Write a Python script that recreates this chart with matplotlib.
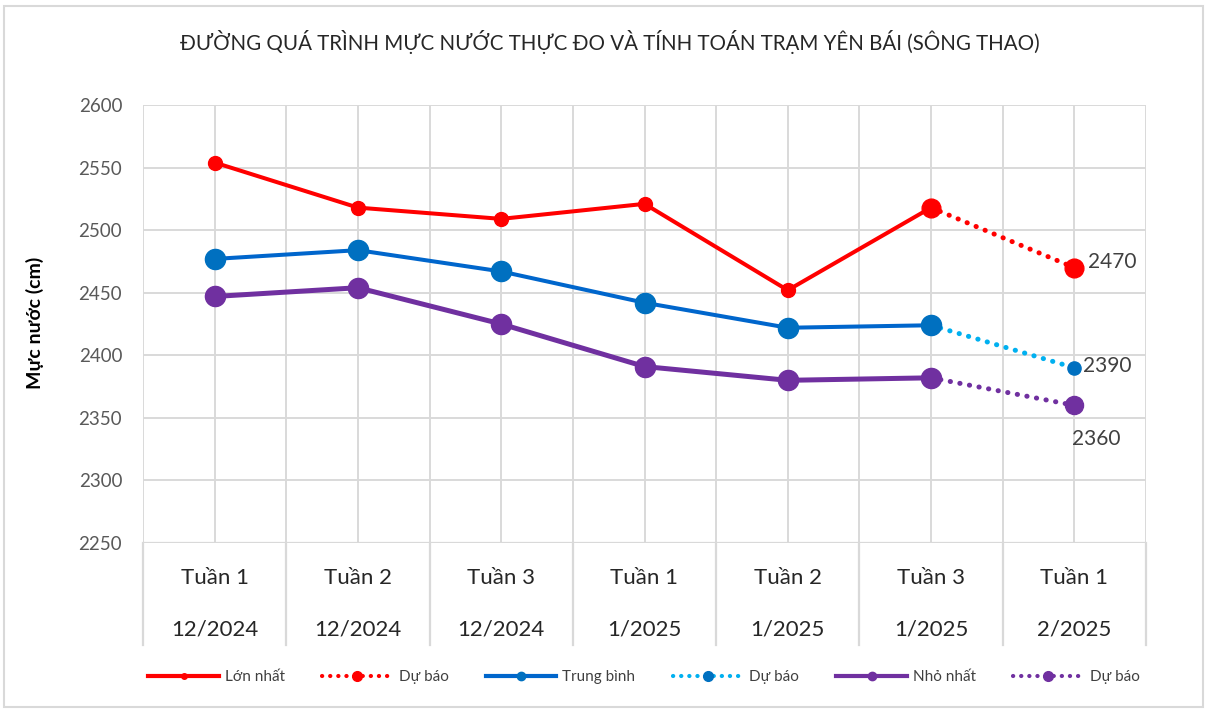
import numpy as np
import matplotlib
matplotlib.use("Agg")
import matplotlib.pyplot as plt
from matplotlib.lines import Line2D
from matplotlib.patches import Rectangle
import matplotlib.transforms as mtransforms

plt.rcParams['font.family'] = ['Lato', 'DejaVu Sans']

nan = np.nan
weeks = ["Tuần 1", "Tuần 2", "Tuần 3", "Tuần 1", "Tuần 2", "Tuần 3", "Tuần 1"]
months = ["12/2024", "12/2024", "12/2024", "1/2025", "1/2025", "1/2025", "2/2025"]

max_obs = [2554, 2518, 2509, 2521, 2452, 2518, nan]
max_fc = [nan, nan, nan, nan, nan, 2518, 2470]
mean_obs = [2477, 2484, 2467, 2442, 2422, 2424, nan]
mean_fc = [nan, nan, nan, nan, nan, 2424, 2390]
min_obs = [2447, 2454, 2425, 2391, 2380, 2382, nan]
min_fc = [nan, nan, nan, nan, nan, 2382, 2360]

title = "ĐƯỜNG QUÁ TRÌNH MỰC NƯỚC THỰC ĐO VÀ TÍNH TOÁN TRẠM YÊN BÁI (SÔNG THAO)"
ylabel = "Mực nước (cm)"
legend_labels = ["Lớn nhất", "Dự báo", "Trung bình", "Dự báo", "Nhỏ nhất", "Dự báo"]

RED = "#FF0000"
BLUE_LINE = "#0066CC"
BLUE_MK = "#0070C0"
LBLUE = "#00B0F0"
PURPLE = "#7030A0"
GRID = "#D9D9D9"

W, H = 1207, 711
fig = plt.figure(figsize=(W / 100, H / 100), dpi=100)
L, R, T, B = 143, 1146, 105, 543
ax = fig.add_axes([L / W, 1 - B / H, (R - L) / W, (B - T) / H])

x = np.arange(len(weeks))
ax.set_xlim(-0.5, len(weeks) - 0.5)
ax.set_ylim(2250, 2600)
ax.set_yticks(np.arange(2250, 2601, 50))
ax.set_xticks(np.arange(-0.5, len(weeks), 0.5))
ax.set_xticklabels([])
ax.tick_params(axis='x', length=0)
ax.tick_params(axis='y', length=0, labelsize=13.5, labelcolor="#595959", pad=15)
ax.grid(True, color=GRID, linewidth=1.4)
ax.set_axisbelow(True)
for s in ax.spines.values():
    s.set_visible(False)
ax.axhline(2250, color=GRID, linewidth=1.6, zorder=1)

dots = (0, (0.05, 1.9))
# observed
ax.plot(x, max_obs, color=RED, lw=2.9, marker='o', ms=10, mfc=RED, mec=RED, zorder=3)
ax.plot(x, mean_obs, color=BLUE_LINE, lw=2.9, marker='o', ms=14.5, mfc=BLUE_MK, mec=BLUE_MK, zorder=3)
ax.plot(x, min_obs, color=PURPLE, lw=3.6, marker='o', ms=14.5, mfc=PURPLE, mec=PURPLE, zorder=3)
# forecasts
ax.plot(x, max_fc, color=RED, lw=3.6, ls=dots, dash_capstyle='round', marker='o', ms=13.5, mfc=RED, mec=RED, zorder=4)
ax.plot(x, mean_fc, color=LBLUE, lw=3.6, ls=dots, dash_capstyle='round', marker='o', ms=9.5, mfc=BLUE_MK, mec=BLUE_MK, zorder=2)
ax.plot(x, min_fc, color=PURPLE, lw=3.6, ls=dots, dash_capstyle='round', marker='o', ms=13, mfc=PURPLE, mec=PURPLE, zorder=2)

lab_kw = dict(fontsize=15, color="#404040")
ax.annotate(f"{max_fc[-1]:.0f}", (x[-1], max_fc[-1]), xytext=(10, 4), textcoords='offset points', va='center', ha='left', **lab_kw)
ax.annotate(f"{mean_fc[-1]:.0f}", (x[-1], mean_fc[-1]), xytext=(6, 1), textcoords='offset points', va='center', ha='left', **lab_kw)
ax.annotate(f"{min_fc[-1]:.0f}", (x[-1], min_fc[-1]), xytext=(16, -24), textcoords='offset points', va='center', ha='center', **lab_kw)

# category axis labels and separators
trans = mtransforms.blended_transform_factory(ax.transData, ax.transAxes)
sep_depth = (645 - B) / (B - T)
for b in np.arange(-0.5, len(weeks), 1.0):
    ax.add_line(Line2D([b, b], [0, -sep_depth], transform=trans, color=GRID, lw=1.6, clip_on=False))
for i in x:
    ax.text(i, -(578 - B) / (B - T), weeks[i], transform=trans, ha='center', va='center', fontsize=16, color="#262626")
    ax.text(i, -(629 - B) / (B - T), months[i], transform=trans, ha='center', va='center', fontsize=16, color="#262626")

fig.text(610 / W, 1 - 42 / H, title, ha='center', va='center', fontsize=14.8, color="#262626")
fig.text(35 / W, 1 - 323 / H, ylabel, ha='center', va='center', rotation=90, fontsize=14, fontweight='bold', color="black")

handles = [
    Line2D([], [], color=RED, lw=3, marker='o', ms=4),
    Line2D([], [], color=RED, lw=3, ls=dots, dash_capstyle='round', marker='o', ms=7),
    Line2D([], [], color=BLUE_LINE, lw=3, marker='o', ms=6, mfc=BLUE_MK, mec=BLUE_MK),
    Line2D([], [], color=LBLUE, lw=3, ls=dots, dash_capstyle='round', marker='o', ms=7, mfc=BLUE_MK, mec=BLUE_MK),
    Line2D([], [], color=PURPLE, lw=3, marker='o', ms=6),
    Line2D([], [], color=PURPLE, lw=3, ls=dots, dash_capstyle='round', marker='o', ms=7),
]
leg = fig.legend(handles, legend_labels, loc='center', bbox_to_anchor=(644 / W, 1 - 677 / H), ncol=6,
                 frameon=False, fontsize=11, handlelength=4.6, handletextpad=0.4, columnspacing=2.45,
                 numpoints=1, labelcolor="#404040")

fig.patches.append(Rectangle((4 / W, 4 / H), (W - 8) / W, (H - 10) / H, transform=fig.transFigure,
                             fill=False, edgecolor=GRID, lw=1.5))

fig.savefig("out.png", dpi=100)
